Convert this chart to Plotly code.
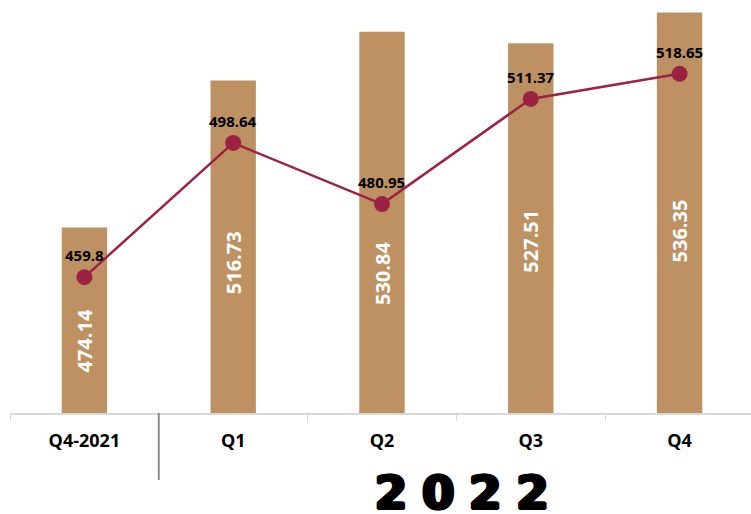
import plotly.graph_objects as go

categories = ["Q4-2021", "Q1", "Q2", "Q3", "Q4"]
bar_values = [474.14, 516.73, 530.84, 527.51, 536.35]
line_values = [459.8, 498.64, 480.95, 511.37, 518.65]
year_label = "2\u20040\u20042\u20042"

# vertical placement (data units) of the rotated labels inside the bars
bar_label_y = [441.3, 463.9, 461.0, 470.3, 473.2]

BAR_COLOR = "#BE9163"
LINE_COLOR = "#9B2242"
FONT = "Open Sans"

fig = go.Figure()
fig.add_trace(go.Bar(
    x=categories, y=bar_values, marker=dict(color=BAR_COLOR, line=dict(width=0)),
    width=0.305, hoverinfo="skip", showlegend=False,
))
fig.add_trace(go.Scatter(
    x=categories, y=line_values, mode="lines+markers",
    line=dict(color=LINE_COLOR, width=2.5),
    marker=dict(color=LINE_COLOR, size=16),
    showlegend=False,
))

annotations = []
for c, v, ly in zip(categories, bar_values, bar_label_y):
    annotations.append(dict(
        x=c, y=ly, xref="x", yref="y", text=f"{v:.2f}", showarrow=False,
        textangle=-90, font=dict(family=FONT, size=20, color="white", weight="bold"),
    ))
for c, v in zip(categories, line_values):
    annotations.append(dict(
        x=c, y=v, xref="x", yref="y", text=f"{v:g}", showarrow=False,
        yshift=22, font=dict(family=FONT, size=15, color="black", weight="bold"),
    ))
annotations.append(dict(
    x=2.5, y=-0.196, xref="x", yref="paper", text=year_label, showarrow=False,
    yanchor="middle", xanchor="center", xshift=6, yshift=1,
    font=dict(family="DejaVu Sans", size=46, color="black", weight="bold",
              shadow="2px 0 0 black, -2px 0 0 black, 1px 1px 0 black, -1px 1px 0 black, 1px -1px 0 black, -1px -1px 0 black"),
))

fig.add_shape(type="line", xref="x", yref="paper", x0=0.5, x1=0.5, y0=0, y1=-0.162,
              line=dict(color="#8c8c8c", width=2))

fig.update_layout(
    width=751, height=514,
    margin=dict(l=10, r=0, t=0, b=101),
    paper_bgcolor="white", plot_bgcolor="white",
    annotations=annotations,
    xaxis=dict(
        type="category", range=[-0.5, 4.48],
        showline=True, linecolor="#d9d9d9", linewidth=1.5,
        ticks="outside", tickson="boundaries", ticklen=6, tickcolor="#d9d9d9",
        tickfont=dict(family=FONT, size=18, color="black", weight="bold"),
        ticklabelstandoff=11, showgrid=False, zeroline=False,
    ),
    yaxis=dict(range=[420.5, 540], visible=False, showgrid=False, zeroline=False),
)

fig.write_html("out.html", config={"displayModeBar": False},
               post_script="document.body.style.margin='0';")
